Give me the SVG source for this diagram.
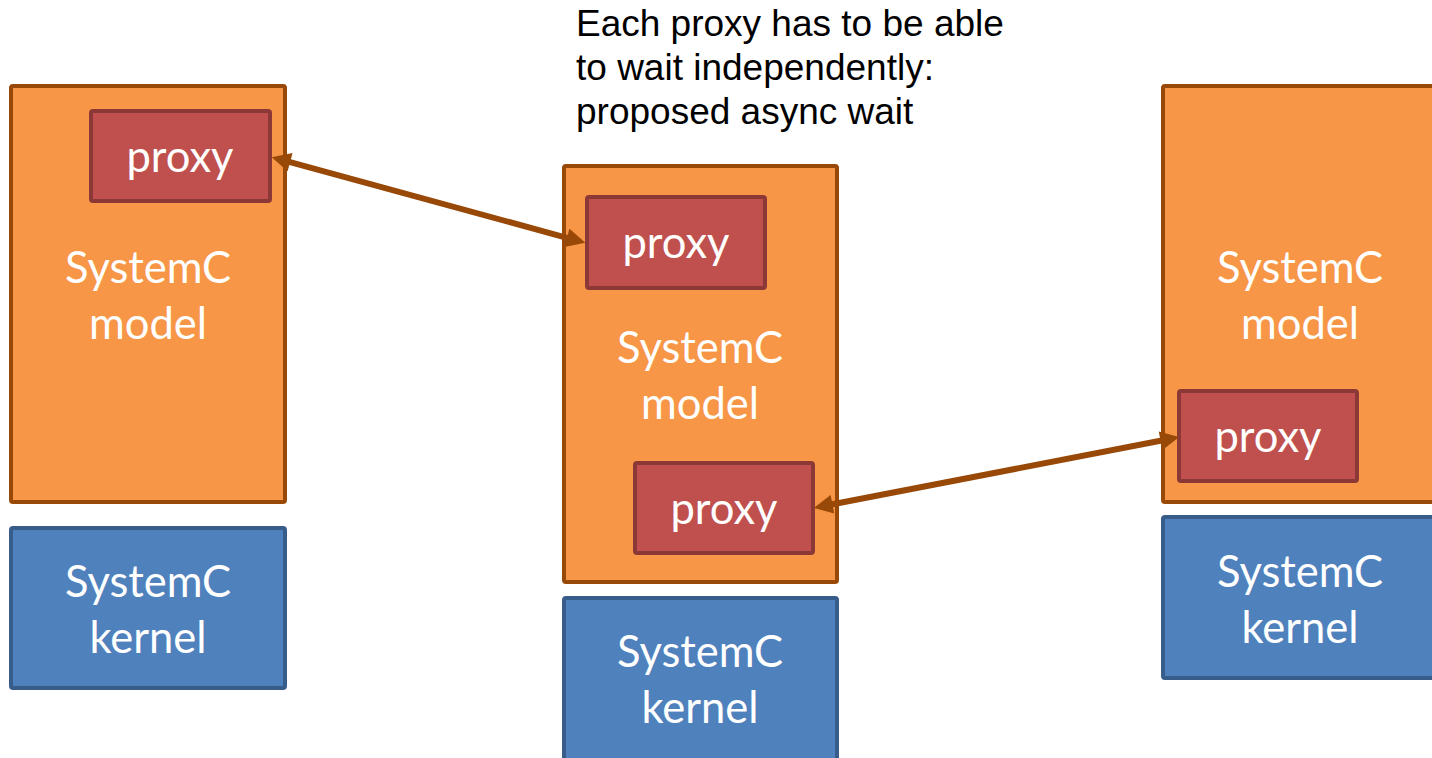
<svg xmlns="http://www.w3.org/2000/svg" width="1432" height="758" viewBox="0 0 1432 758">
<style>
.model{fill:#F79646;stroke:#984807;stroke-width:4}
.proxy{fill:#C0504D;stroke:#8C3836;stroke-width:4}
.kernel{fill:#4F81BD;stroke:#385D8A;stroke-width:4}
.lbl{font-family:Lato,"Open Sans",sans-serif;font-size:43.5px;fill:#FFFFFF;text-anchor:middle}
.plbl{font-family:Lato,"Open Sans",sans-serif;font-size:43.5px;fill:#FFFFFF;text-anchor:middle}
.title{font-family:"Liberation Sans",Arial,sans-serif;font-size:37px;fill:#000000}
.conn{stroke:#984807;stroke-width:6;fill:none;marker-start:url(#ah);marker-end:url(#ah)}
</style>
<defs>
<marker id="ah" viewBox="0 0 10 10" refX="2" refY="5" markerWidth="20" markerHeight="19" markerUnits="userSpaceOnUse" orient="auto-start-reverse">
<path d="M0,0 L10,5 L0,10 z" fill="#984807"/>
</marker>
</defs>
<g id="title">
<text class="title" x="576" y="36">Each proxy has to be able</text>
<text class="title" x="576" y="80">to wait independently:</text>
<text class="title" x="576" y="124">proposed async wait</text>
</g>
<g id="left-model">
<rect class="model" x="11" y="86" width="274" height="416" rx="2"/>
<text class="lbl" x="148" y="283">SystemC</text>
<text class="lbl" x="148" y="339">model</text>
</g>
<g id="left-proxy">
<rect class="proxy" x="91" y="111" width="179" height="90" rx="2"/>
<text class="plbl" x="180" y="172">proxy</text>
</g>
<g id="left-kernel">
<rect class="kernel" x="11" y="528" width="274" height="160" rx="2"/>
<text class="lbl" x="148" y="597">SystemC</text>
<text class="lbl" x="148" y="653">kernel</text>
</g>
<g id="mid-model">
<rect class="model" x="564" y="166" width="273" height="416" rx="2"/>
<text class="lbl" x="700" y="363">SystemC</text>
<text class="lbl" x="700" y="419">model</text>
</g>
<g id="mid-proxy-top">
<rect class="proxy" x="587" y="197" width="178" height="91" rx="2"/>
<text class="plbl" x="676" y="258">proxy</text>
</g>
<g id="mid-proxy-bottom">
<rect class="proxy" x="635" y="463" width="178" height="90" rx="2"/>
<text class="plbl" x="724" y="524">proxy</text>
</g>
<g id="mid-kernel">
<rect class="kernel" x="564" y="598" width="273" height="175" rx="2"/>
<text class="lbl" x="700" y="667">SystemC</text>
<text class="lbl" x="700" y="723">kernel</text>
</g>
<g id="right-model">
<rect class="model" x="1163" y="86" width="274" height="416" rx="2"/>
<text class="lbl" x="1300" y="283">SystemC</text>
<text class="lbl" x="1300" y="339">model</text>
</g>
<g id="right-proxy">
<rect class="proxy" x="1179" y="391" width="178" height="90" rx="2"/>
<text class="plbl" x="1268" y="452">proxy</text>
</g>
<g id="right-kernel">
<rect class="kernel" x="1163" y="517" width="274" height="161" rx="2"/>
<text class="lbl" x="1300" y="587">SystemC</text>
<text class="lbl" x="1300" y="643">kernel</text>
</g>
<g id="connectors">
<line class="conn" x1="286.4" y1="161.2" x2="570.6" y2="238.8"/>
<line class="conn" x1="1164.3" y1="440" x2="828.7" y2="505"/>
</g>
</svg>
